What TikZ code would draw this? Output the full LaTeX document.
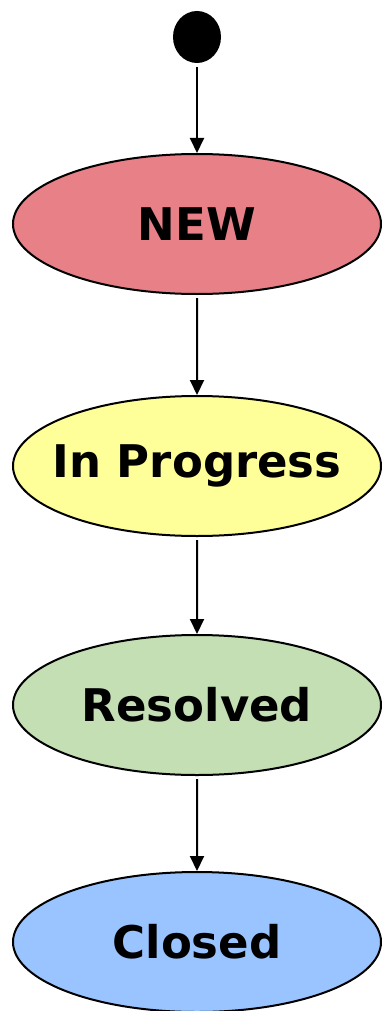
\documentclass[tikz,border=0pt]{standalone}
\usepackage{fontspec}
\setmainfont{DejaVu Sans}
\usetikzlibrary{shapes.geometric,arrows.meta}
\definecolor{newred}{RGB}{232,128,136}
\definecolor{progyellow}{RGB}{255,255,153}
\definecolor{resgreen}{RGB}{196,223,180}
\definecolor{closedblue}{RGB}{153,196,255}
\begin{document}
\begin{tikzpicture}[x=1pt,y=1pt,grow=down,line width=2pt,
  state/.style={draw,ellipse,minimum width=368pt,minimum height=140pt,inner xsep=-60pt,inner ysep=0pt,font=\fontsize{45}{50}\selectfont\bfseries},
  edge from parent/.style={draw,-{Triangle[width=14pt,length=15pt]},shorten <=3pt},
  level 1/.style={level distance=187pt}, level 2/.style={level distance=242pt},
  level 3/.style={level distance=239pt}, level 4/.style={level distance=237pt}]
\useasboundingbox (0,0) rectangle (381,-1011);
\node[ellipse,fill=black,minimum width=48pt,minimum height=52pt,inner sep=0pt] (start) at (197,-37) {}
    child { node[state,fill=newred] (new) {NEW}
    	child { node[state,fill=progyellow] (inprogress) {In Progress}
    		child { node[state,fill=resgreen] (resolved) {Resolved}
    			child { node[state,fill=closedblue] (closed) {Closed} }
	}}};
\end{tikzpicture}
\end{document}
